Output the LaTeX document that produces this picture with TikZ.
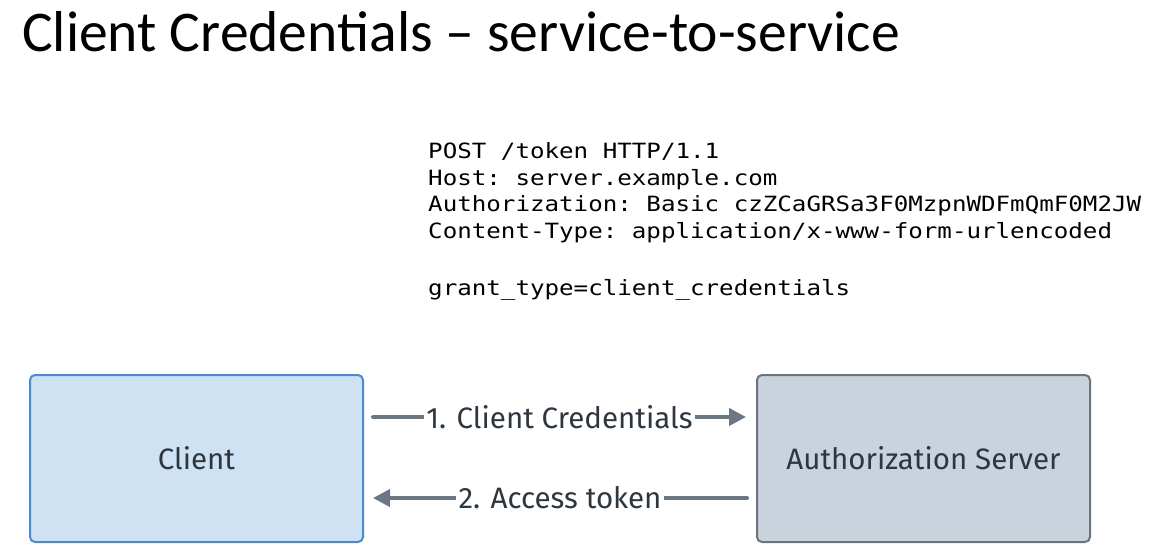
\documentclass[tikz,border=0pt]{standalone}
\usepackage{fontspec}
\usetikzlibrary{arrows.meta}
\newfontfamily\titlefont{Carlito}
\newfontfamily\codefont[FakeStretch=1.151]{DejaVu Sans Mono}
\newfontfamily\labelfont{Fira Sans}
\definecolor{clientfill}{HTML}{CFE2F3}
\definecolor{clientborder}{HTML}{4A8BD0}
\definecolor{serverfill}{HTML}{C8D3DE}
\definecolor{serverborder}{HTML}{6C757D}
\definecolor{arrowcol}{HTML}{6B7783}
\definecolor{textcol}{HTML}{2E3740}
\tikzset{
  box/.style={rounded corners=5pt, line width=2pt, minimum width=333pt, minimum height=167pt, inner sep=0pt,
    font=\labelfont\fontsize{29.5}{34}\selectfont, text=textcol},
  codeline/.style={anchor=base west, inner sep=0pt, font=\codefont\frenchspacing\fontsize{21}{26}\selectfont, text=black},
  flow/.style={draw=arrowcol, line width=4pt, line cap=round, -{Triangle[length=17pt,width=17pt]}},
  flowlabel/.style={fill=white, inner sep=2.5pt, text=textcol, font=\labelfont\fontsize{29.5}{32}\selectfont}
}
\begin{document}
\begin{tikzpicture}[x=1pt,y=-1pt]
\useasboundingbox (0,0) rectangle (1153,554);
\fill[white] (0,0) rectangle (1153,554);
\node[anchor=base west, inner sep=0pt, font=\titlefont\fontsize{57.6}{62}\selectfont, text=black] (title) at (22,51) {Client Credentials – service-to-service};
\node[codeline] (l1) at (428,158) {POST /token HTTP/1.1};
\node[codeline] (l2) at (428,185) {Host: server.example.com};
\node[codeline] (l3) at (428,211.5) {Authorization: Basic czZCaGRSa3F0MzpnWDFmQmF0M2JW};
\node[codeline] (l4) at (428,238) {Content-Type: application/x-www-form-urlencoded};
\node[codeline] (l5) at (428,295) {grant\_type=client\_credentials};
\node[box, draw=clientborder, fill=clientfill] (client) at (196.5,458.5) {Client};
\node[box, draw=serverborder, fill=serverfill] (server) at (923.5,458.5) {Authorization Server};
\coordinate (a1s) at (373,417);
\coordinate (a1e) at (746,417);
\coordinate (a2s) at (747,498);
\coordinate (a2e) at (373,498);
\draw[flow] (a1s) -- node[flowlabel] (lab1) {1. Client Credentials} (a1e);
\draw[flow] (a2s) -- node[flowlabel] (lab2) {2. Access token} (a2e);
\end{tikzpicture}
\end{document}
